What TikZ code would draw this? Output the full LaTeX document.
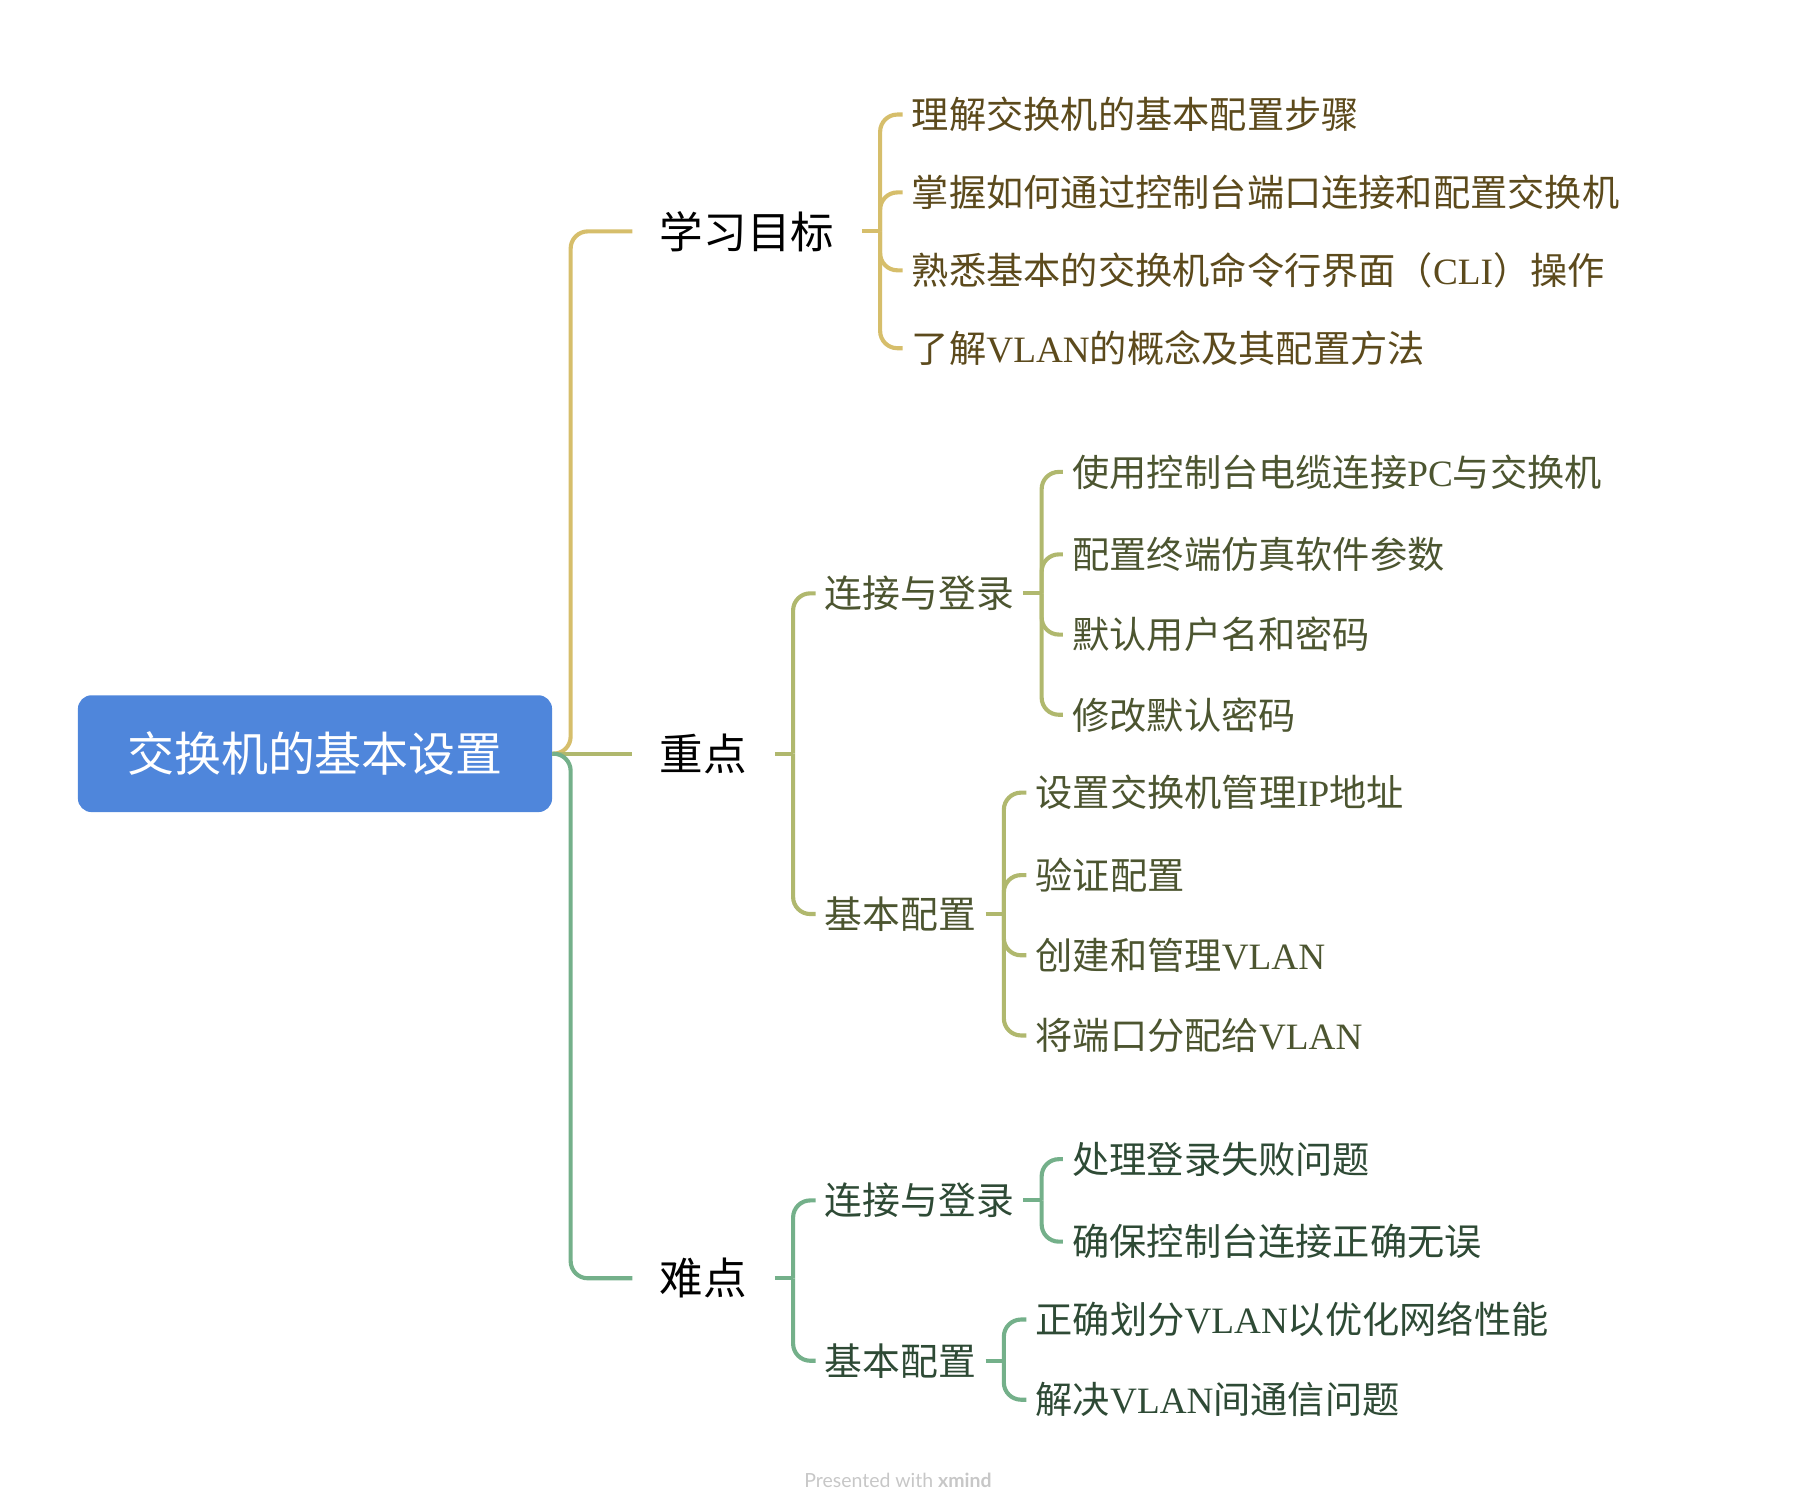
\documentclass[tikz,border=0pt]{standalone}
\usepackage{fontspec}
\setmainfont{Noto Sans CJK SC}
\newfontfamily\latfont{Liberation Serif}
\newfontfamily\footfont{Lato}
\newcommand{\La}[1]{{\latfont #1}}
\definecolor{rootblue}{HTML}{4F86DB}
\definecolor{goldc}{HTML}{D6BE6B}
\definecolor{olivec}{HTML}{B0B86E}
\definecolor{greenc}{HTML}{74B08A}
\definecolor{goldt}{HTML}{5C4A1C}
\definecolor{olivet}{HTML}{4C5530}
\definecolor{greent}{HTML}{2E4A35}
\begin{document}
\begin{tikzpicture}[x=1pt,y=-1pt,
  rootbox/.style={fill=rootblue,rounded corners=12pt,minimum width=414pt,minimum height=102pt,text=white,inner sep=0pt,font=\fontsize{41}{48}\selectfont},
  lone/.style={anchor=west,inner xsep=24pt,inner ysep=0pt,text=black,font=\fontsize{38}{44}\selectfont},
  ltwo/.style={anchor=west,inner xsep=8pt,inner ysep=0pt,font=\fontsize{33}{40}\selectfont},
  leaf/.style={anchor=west,inner xsep=8pt,inner ysep=0pt,font=\fontsize{32.5}{40}\selectfont},
  conn/.style={line width=3.6pt,rounded corners=15pt},
  gl/.style={conn,draw=goldc},
  ol/.style={conn,draw=olivec},
  gr/.style={conn,draw=greenc}]
\useasboundingbox (0,0) rectangle (1568,1320);

% root
\node[rootbox] (root) at (275,658) {交换机的基本设置};

% level 1
\node[lone] (goal) at (552,202) {学习目标};
\node[lone] (key) at (552,658) {重点};
\node[lone] (hard) at (552,1116) {难点};

% gold leaves
\node[leaf,text=goldt] (g1) at (788,100) {理解交换机的基本配置步骤};
\node[leaf,text=goldt] (g2) at (788,168) {掌握如何通过控制台端口连接和配置交换机};
\node[leaf,text=goldt] (g3) at (788,236) {熟悉基本的交换机命令行界面（\La{CLI}）操作};
\node[leaf,text=goldt] (g4) at (788,304) {了解\La{VLAN}的概念及其配置方法};

% olive level 2
\node[ltwo,text=olivet] (k1) at (712,518) {连接与登录};
\node[ltwo,text=olivet] (k2) at (712,798) {基本配置};
\node[leaf,text=olivet] (k11) at (928,412) {使用控制台电缆连接\La{PC}与交换机};
\node[leaf,text=olivet] (k12) at (928,484) {配置终端仿真软件参数};
\node[leaf,text=olivet] (k13) at (928,554) {默认用户名和密码};
\node[leaf,text=olivet] (k14) at (928,624) {修改默认密码};
\node[leaf,text=olivet] (k21) at (896,692) {设置交换机管理\La{IP}地址};
\node[leaf,text=olivet] (k22) at (896,764) {验证配置};
\node[leaf,text=olivet] (k23) at (896,834) {创建和管理\La{VLAN}};
\node[leaf,text=olivet] (k24) at (896,904) {将端口分配给\La{VLAN}};

% green level 2
\node[ltwo,text=greent] (h1) at (712,1048) {连接与登录};
\node[ltwo,text=greent] (h2) at (712,1188) {基本配置};
\node[leaf,text=greent] (h11) at (928,1012) {处理登录失败问题};
\node[leaf,text=greent] (h12) at (928,1084) {确保控制台连接正确无误};
\node[leaf,text=greent] (h21) at (896,1152) {正确划分\La{VLAN}以优化网络性能};
\node[leaf,text=greent] (h22) at (896,1222) {解决\La{VLAN}间通信问题};

% root connectors
\coordinate (j0) at ([xshift=16pt]root.east);
\draw[gl] (root.east) -- (j0) |- (goal.west);
\draw[ol] (root.east) -- (key.west);
\draw[gr] (root.east) -- (j0) |- (hard.west);

% goal
\coordinate (jg) at ([xshift=16pt]goal.east);
\draw[gl] (goal.east) -- (jg);
\foreach \n in {g1,g2,g3,g4} \draw[gl] (jg) |- (\n.west);

% key
\coordinate (jk) at ([xshift=16pt]key.east);
\draw[ol] (key.east) -- (jk);
\foreach \n in {k1,k2} \draw[ol] (jk) |- (\n.west);
\coordinate (jk1) at ([xshift=16pt]k1.east);
\draw[ol] (k1.east) -- (jk1);
\foreach \n in {k11,k12,k13,k14} \draw[ol] (jk1) |- (\n.west);
\coordinate (jk2) at ([xshift=16pt]k2.east);
\draw[ol] (k2.east) -- (jk2);
\foreach \n in {k21,k22,k23,k24} \draw[ol] (jk2) |- (\n.west);

% hard
\coordinate (jh) at ([xshift=16pt]hard.east);
\draw[gr] (hard.east) -- (jh);
\foreach \n in {h1,h2} \draw[gr] (jh) |- (\n.west);
\coordinate (jh1) at ([xshift=16pt]h1.east);
\draw[gr] (h1.east) -- (jh1);
\foreach \n in {h11,h12} \draw[gr] (jh1) |- (\n.west);
\coordinate (jh2) at ([xshift=16pt]h2.east);
\draw[gr] (h2.east) -- (jh2);
\foreach \n in {h21,h22} \draw[gr] (jh2) |- (\n.west);

% footer
\node[text=black!22,font=\footfont\fontsize{17}{20}\selectfont] (foot) at (784,1292) {Presented with \textbf{xmind}};
\end{tikzpicture}
\end{document}
